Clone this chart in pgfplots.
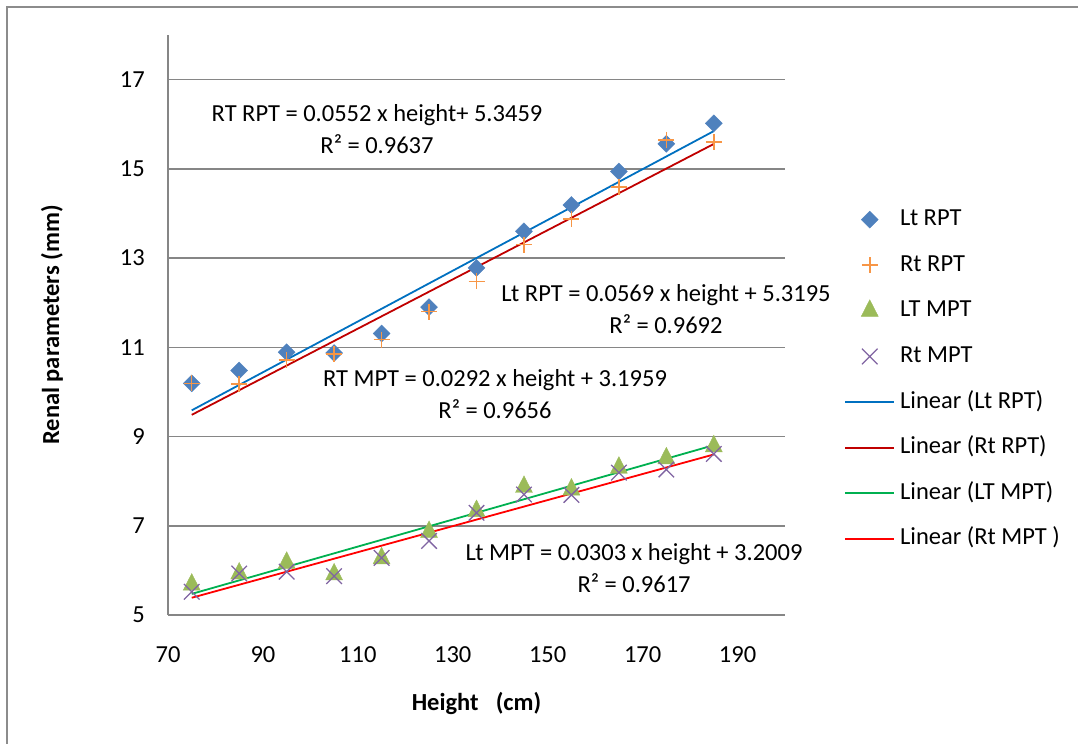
\documentclass[border=0pt]{standalone}
\usepackage{fontspec}
\setmainfont{Carlito}
\usepackage{pgfplots}
\usepackage{pgfplotstable}
\pgfplotsset{compat=1.18}

\definecolor{ltrpt}{HTML}{4F81BD}
\definecolor{rtrpt}{HTML}{F79646}
\definecolor{ltmpt}{HTML}{9BBB59}
\definecolor{rtmpt}{HTML}{8064A2}
\definecolor{fitltrpt}{HTML}{0070C0}
\definecolor{fitrtrpt}{HTML}{C00000}
\definecolor{fitltmpt}{HTML}{00B050}
\definecolor{fitrtmpt}{HTML}{FF0000}
\definecolor{axisgray}{HTML}{868686}
\definecolor{framegray}{HTML}{8C8C8C}

\newcommand\cf{\fontsize{24.5bp}{32bp}\selectfont}
\newcommand\cfb{\fontsize{24.5bp}{32bp}\selectfont\bfseries}

% height (cm) vs. renal parameters (mm)
\pgfplotstableread{
h    ltrpt  rtrpt  ltmpt  rtmpt
75   10.19  10.19  5.68   5.52
85   10.48  10.18  5.93   5.93
95   10.89  10.72  6.17   5.97
105  10.87  10.85  5.91   5.87
115  11.31  11.17  6.27   6.28
125  11.90  11.80  6.86   6.66
135  12.78  12.48  7.33   7.29
145  13.60  13.30  7.87   7.70
155  14.19  13.87  7.81   7.69
165  14.94  14.59  8.30   8.19
175  15.56  15.65  8.51   8.26
185  16.02  15.60  8.78   8.61
}\renal

\begin{document}
\begin{tikzpicture}[x=1bp,y=1bp]
\useasboundingbox (0,0) rectangle (1078,744);
% chart area border
\draw[framegray, line width=1.5bp] (7,-20) -- (7,737) -- (1100,737);
\begin{axis}[
  at={(168bp,129bp)}, anchor=south west,
  scale only axis, width=617bp, height=580bp,
  xmin=70, xmax=200, ymin=5, ymax=18,
  xtick={70,90,...,190}, ytick={5,7,...,17},
  axis x line*=bottom, axis y line*=left,
  axis line style={draw=axisgray, line width=1.5bp, -},
  ymajorgrids, grid style={draw=axisgray, line width=1.5bp},
  major tick length=0pt,
  /pgf/number format/assume math mode=true,
  tick label style={font=\cf, inner sep=0pt},
  xticklabel style={anchor=north, yshift=-31bp},
  yticklabel style={anchor=east, xshift=-23bp},
  xlabel={Height\hspace{0.7em}(cm)},
  ylabel={Renal parameters (mm)},
  xlabel style={at={(axis description cs:0.5,-0.1517)}, anchor=center, font=\cfb},
  ylabel style={at={(axis description cs:-0.188,0.5)}, anchor=center, font=\cfb},
  clip=false,
  legend style={at={(axis description cs:1.091,0.7045)}, anchor=north west,
    draw=none, fill=none, font=\cf, row sep=23.6bp,
    nodes={inner sep=0pt, text height=17bp, text depth=5bp},
    /tikz/every odd column/.append style={column sep=5bp}},
  legend cell align=left,
  markkey/.style={legend image code/.code={\draw[##1] plot coordinates {(24.5bp,0bp)};}},
  linekey/.style={legend image code/.code={\draw[##1] (0bp,0bp) -- (49bp,0bp);}},
  trend/.style={draw=#1, color=#1, line width=1.8bp, no marks, linekey},
]
\addplot[only marks, color=ltrpt, mark=square*, mark size=6bp,
  mark options={rotate=45, fill=ltrpt, draw=ltrpt}, markkey] table[x=h, y=ltrpt] {\renal};
\addlegendentry{Lt RPT}
\addplot[only marks, color=rtrpt, mark=+, mark size=8bp,
  mark options={line width=1.5bp}, markkey] table[x=h, y=rtrpt] {\renal};
\addlegendentry{Rt RPT}
\addplot[only marks, color=ltmpt, mark=triangle*, mark size=9.8bp,
  mark options={yscale=1.13, fill=ltmpt, draw=ltmpt}, markkey] table[x=h, y=ltmpt] {\renal};
\addlegendentry{LT MPT}
\addplot[only marks, color=rtmpt, mark=x, mark size=11bp,
  mark options={line width=1.3bp}, markkey] table[x=h, y=rtmpt] {\renal};
\addlegendentry{Rt MPT}
% linear trend lines
\addplot[trend=fitltrpt] coordinates {(75,9.587) (185,15.846)};
\addlegendentry{Linear (Lt RPT)}
\addplot[trend=fitrtrpt] coordinates {(75,9.486) (185,15.558)};
\addlegendentry{Linear (Rt RPT)}
\addplot[trend=fitltmpt] coordinates {(75,5.473) (185,8.806)};
\addlegendentry{Linear (LT MPT)}
\addplot[trend=fitrtmpt] coordinates {(75,5.386) (185,8.598)};
\addlegendentry{Linear (Rt MPT )}
% regression equations
\node[font=\cf, align=center] at (axis cs:114.04,15.88) {RT RPT = 0.0552 x height+ 5.3459\\R² = 0.9637};
\node[font=\cf, align=center] at (axis cs:174.93,11.85) {Lt RPT = 0.0569 x height + 5.3195\\R² = 0.9692};
\node[font=\cf, align=center] at (axis cs:138.9,9.95) {RT MPT = 0.0292 x height + 3.1959\\R² = 0.9656};
\node[font=\cf, align=center] at (axis cs:168.2,6.06) {Lt MPT = 0.0303 x height + 3.2009\\R² = 0.9617};
\end{axis}
\end{tikzpicture}
\end{document}
